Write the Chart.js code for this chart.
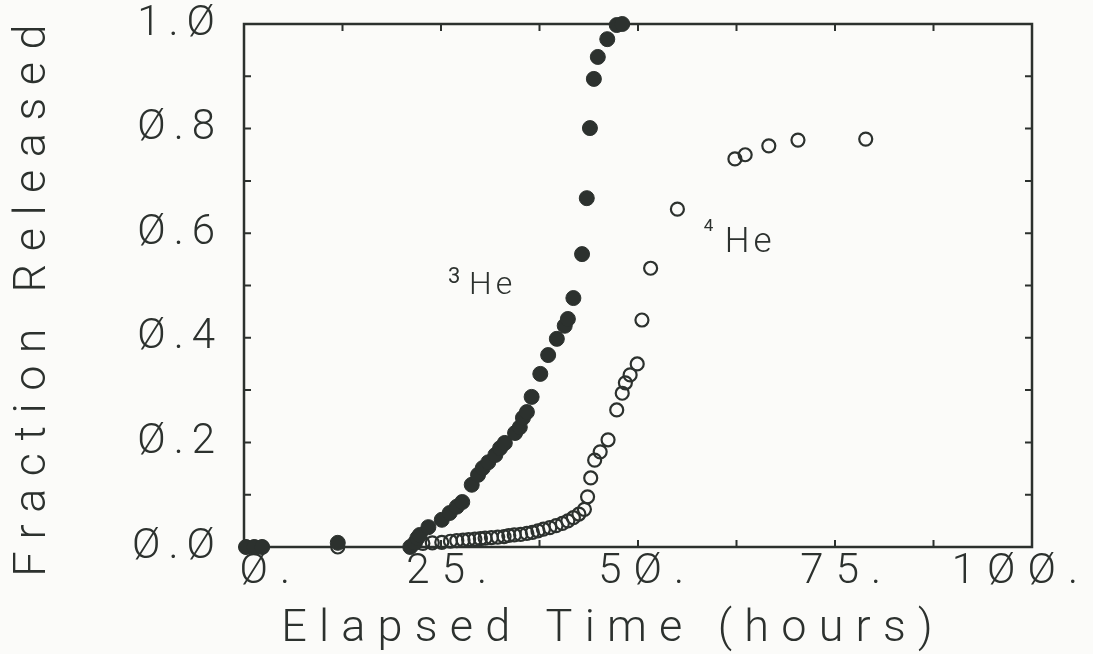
<!DOCTYPE html>
<html>
<head>
<meta charset="utf-8">
<title>Fraction Released</title>
<script src="https://cdn.jsdelivr.net/npm/chart.js@4.4.1/dist/chart.umd.min.js"></script>
<style>
    html, body { margin: 0; padding: 0; background: #fbfbf9; overflow: hidden; }
    #wrap { width: 1093px; height: 654px; position: relative; }
</style>
</head>
<body>
<div id="wrap"><canvas id="release"></canvas></div>
<script>
// 3He step-heating release (filled circles)
const he3Hours = [0.25, 1.3, 2.3, 11.9, 21.1, 21.7, 22.0, 22.3, 23.4, 25.1, 26.1, 27.0, 27.7, 28.9, 29.7,
    30.3, 31.0, 31.9, 32.5, 33.1, 34.4, 35.0, 35.4, 35.9, 36.5, 37.6, 38.6, 39.7, 40.7, 41.1, 41.8,
    42.9, 43.5, 43.9, 44.4, 44.9, 46.1, 47.3, 48.0];
const he3Fraction = [0, 0, 0, 0.008, 0, 0.008, 0.017, 0.023, 0.038, 0.052, 0.065, 0.077, 0.086, 0.119, 0.138,
    0.151, 0.162, 0.176, 0.189, 0.199, 0.218, 0.229, 0.247, 0.258, 0.287, 0.331, 0.367, 0.398, 0.423, 0.436, 0.476,
    0.560, 0.667, 0.801, 0.895, 0.937, 0.971, 0.998, 1.0];

// 4He release (open circles)
const he4Hours = [0.3, 1.3, 2.3, 11.9, 22.7, 23.9, 25.1, 26.2, 27.0, 27.8, 28.5, 29.3, 30.0, 30.6, 31.4,
    32.2, 33.0, 33.6, 34.3, 35.1, 35.9, 36.6, 37.3, 38.0, 38.8, 39.6, 40.4, 41.1, 41.8, 42.5, 43.2,
    43.6, 44.0, 44.5, 45.2, 46.2, 47.3, 48.0, 48.4, 49.0, 49.9, 50.5, 51.6, 55.0, 62.3, 63.6, 66.6, 70.3, 78.9];
const he4Fraction = [0, 0, 0, 0, 0.007, 0.008, 0.009, 0.011, 0.012, 0.013, 0.014, 0.015, 0.016, 0.017, 0.018,
    0.019, 0.020, 0.022, 0.023, 0.024, 0.026, 0.028, 0.031, 0.034, 0.037, 0.041, 0.045, 0.050, 0.056, 0.063, 0.072,
    0.096, 0.132, 0.166, 0.182, 0.205, 0.262, 0.294, 0.314, 0.329, 0.350, 0.434, 0.533, 0.646, 0.742, 0.750, 0.767, 0.778, 0.780];

const xTickText = ['Ø.', '25.', '5Ø.', '75.', '1ØØ.'];
const yTickText = ['Ø.Ø', 'Ø.2', 'Ø.4', 'Ø.6', 'Ø.8', '1.Ø'];

const ink = '#2c312e';
const family = 'Roboto';

function toPoints(xs, ys) {
    return xs.map((x, i) => ({ x: x, y: ys[i] }));
}

// wrap a scale draw method: letter spacing plus a small nudge
function spaceOut(scale, method, style) {
    const orig = scale[method];
    scale[method] = function (...args) {
        const ctx = this.ctx;
        ctx.save();
        ctx.letterSpacing = style.spacing;
        ctx.translate(style.dx || 0, style.dy || 0);
        orig.apply(this, args);
        ctx.restore();
    };
}

const textStyle = {
    x: { labels: { spacing: '12px' }, title: { spacing: '12.2px', dx: -25, dy: 3 } },
    y: { labels: { spacing: '8px' }, title: { spacing: '12.5px', dy: -12 } },
};

const letterSpacingPlugin = {
    id: 'letterSpacing',
    afterLayout(chart) {
        ['x', 'y'].forEach(id => {
            const scale = chart.scales[id];
            if (scale._spaced) return;
            spaceOut(scale, 'drawLabels', textStyle[id].labels);
            spaceOut(scale, 'drawTitle', textStyle[id].title);
            scale._spaced = true;
        });
    }
};

// box frame with short inward ticks on all four sides
const framePlugin = {
    id: 'frame',
    beforeDatasetsDraw(chart) {
        const { ctx, chartArea: a, scales: { x, y } } = chart;
        ctx.save();
        ctx.strokeStyle = ink;
        ctx.lineWidth = 2.5;
        ctx.strokeRect(a.left, a.top, a.right - a.left, a.bottom - a.top);
        ctx.lineWidth = 2;
        ctx.beginPath();
        for (let i = 1; i < 10; i++) {
            const py = y.getPixelForValue(i / 10);
            ctx.moveTo(a.left, py);
            ctx.lineTo(a.left + 7, py);
            ctx.moveTo(a.right, py);
            ctx.lineTo(a.right - 7, py);
        }
        for (let i = 1; i < 8; i++) {
            const px = x.getPixelForValue(i * 12.5);
            ctx.moveTo(px, a.top);
            ctx.lineTo(px, a.top + 7);
            ctx.moveTo(px, a.bottom);
            ctx.lineTo(px, a.bottom - 7);
        }
        ctx.stroke();
        ctx.restore();
    }
};

// isotope names beside each curve
const isotopeLabels = [
    { mass: '3', name: 'He', hours: 28.55, fraction: 0.484, size: 32, supSize: 22, supDx: -21, supDy: -11 },
    { mass: '4', name: 'He', hours: 61.0, fraction: 0.564, size: 35, supSize: 17, supDx: -21, supDy: -21 },
];

const isotopePlugin = {
    id: 'isotopes',
    afterDatasetsDraw(chart) {
        const { ctx, scales: { x, y } } = chart;
        ctx.save();
        ctx.fillStyle = ink;
        ctx.textBaseline = 'alphabetic';
        ctx.textAlign = 'left';
        isotopeLabels.forEach(l => {
            const px = x.getPixelForValue(l.hours);
            const py = y.getPixelForValue(l.fraction);
            ctx.letterSpacing = '4px';
            ctx.font = `300 ${l.size}px ${family}`;
            ctx.fillText(l.name, px, py);
            ctx.letterSpacing = '0px';
            ctx.font = `400 ${l.supSize}px ${family}`;
            ctx.fillText(l.mass, px + l.supDx, py + l.supDy);
        });
        ctx.restore();
    }
};

new Chart(document.getElementById('release'), {
    type: 'scatter',
    data: {
        datasets: [
            {
                label: '3He',
                data: toPoints(he3Hours, he3Fraction),
                pointRadius: 7.5,
                pointBorderWidth: 1,
                pointBackgroundColor: ink,
                pointBorderColor: ink,
                clip: false
            },
            {
                label: '4He',
                data: toPoints(he4Hours, he4Fraction),
                pointRadius: 6.5,
                pointBorderWidth: 2.2,
                pointBackgroundColor: 'rgba(0,0,0,0)',
                pointBorderColor: ink,
                clip: false
            }
        ]
    },
    options: {
        responsive: true,
        maintainAspectRatio: false,
        animation: false,
        events: [],
        layout: { padding: { top: 24, right: 61, left: 0, bottom: 0 } },
        plugins: {
            legend: { display: false },
            tooltip: { enabled: false }
        },
        scales: {
            x: {
                type: 'linear',
                min: 0,
                max: 100,
                grid: { display: false },
                border: { display: false },
                ticks: {
                    stepSize: 25,
                    autoSkip: false,
                    maxRotation: 0,
                    align: 'end',
                    padding: -4,
                    labelOffset: 58,
                    color: ink,
                    font: { family: family, size: 42, weight: 300, lineHeight: 1 },
                    callback: (v, i) => xTickText[i]
                },
                title: {
                    display: true,
                    text: 'Elapsed Time (hours)',
                    color: ink,
                    font: { family: family, size: 45, weight: 300, lineHeight: 1.2 },
                    padding: { top: 0, bottom: 0 }
                },
                afterFit(scale) {
                    scale.height = 107;
                    scale.paddingLeft = 0;
                    scale.paddingRight = 0;
                }
            },
            y: {
                type: 'linear',
                min: 0,
                max: 1,
                grid: { display: false },
                border: { display: false },
                ticks: {
                    stepSize: 0.2,
                    autoSkip: false,
                    padding: 13,
                    color: ink,
                    font: { family: family, size: 42, weight: 300, lineHeight: 1.2 },
                    callback: (v, i) => yTickText[i]
                },
                title: {
                    display: true,
                    text: 'Fraction Released',
                    align: 'end',
                    color: ink,
                    font: { family: family, size: 45, weight: 300, lineHeight: 1.2 },
                    padding: { top: 7, bottom: 0 }
                },
                afterFit(scale) {
                    scale.width = 244;
                    scale.paddingTop = 0;
                    scale.paddingBottom = 0;
                }
            }
        }
    },
    plugins: [letterSpacingPlugin, framePlugin, isotopePlugin]
});
</script>
</body>
</html>
